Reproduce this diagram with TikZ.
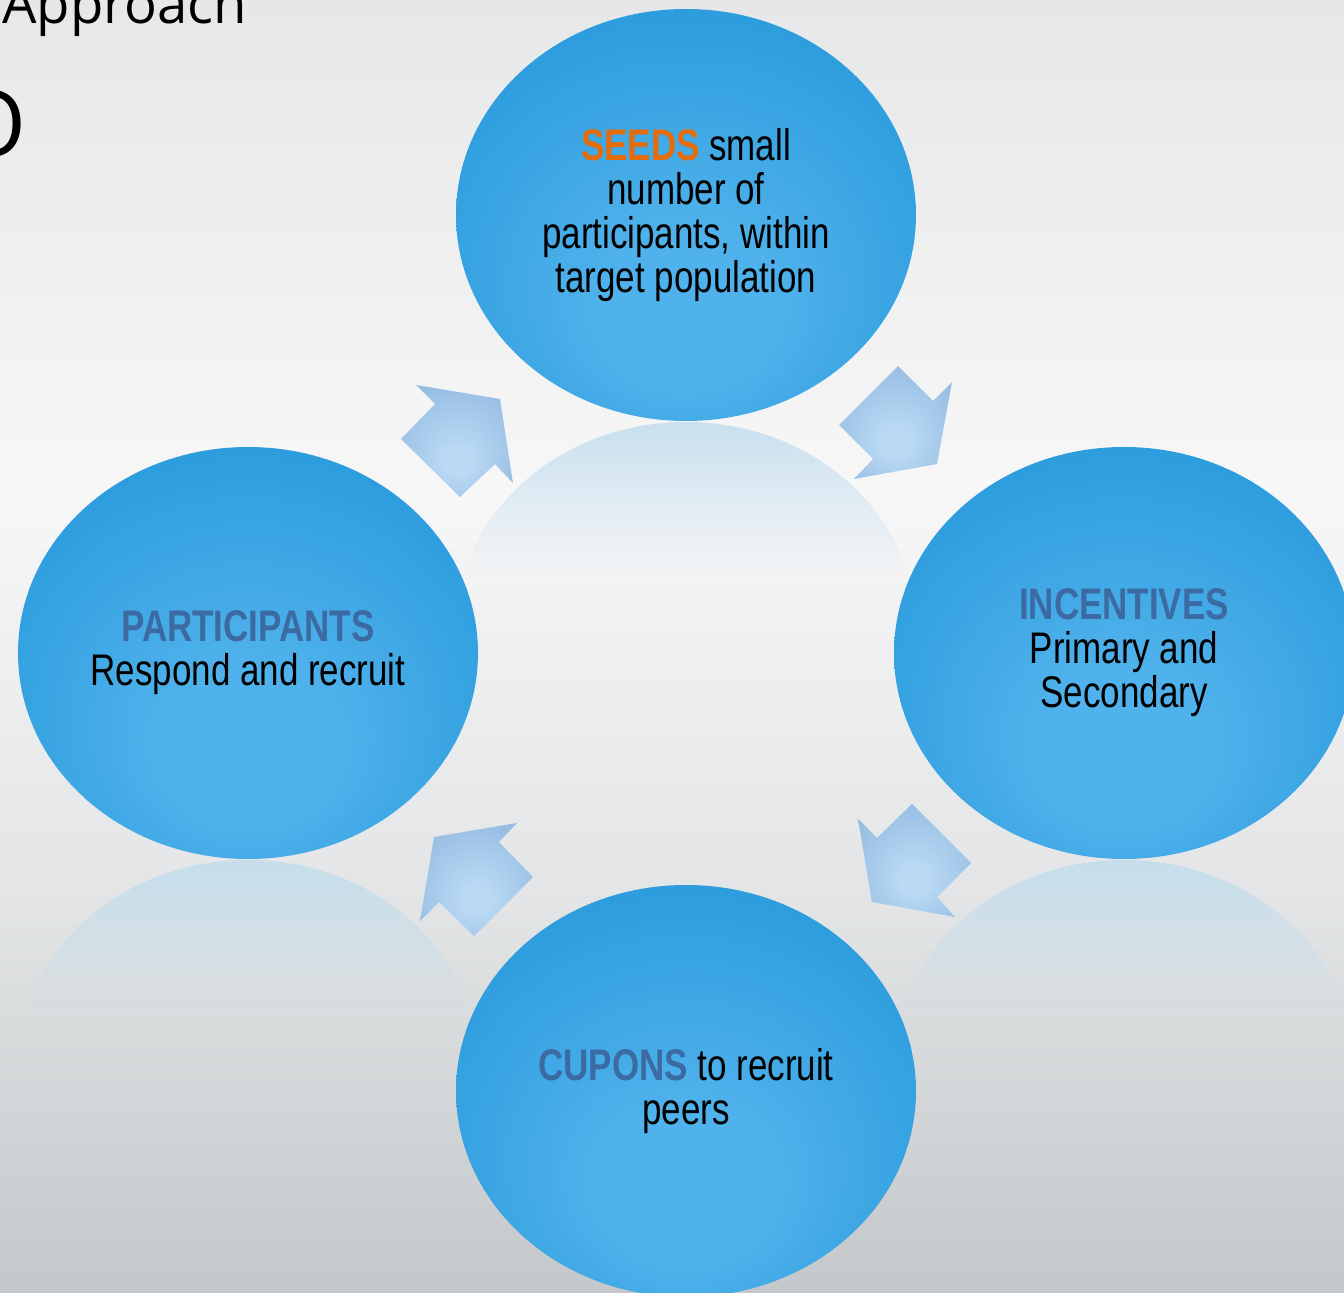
\documentclass[tikz,border=0pt]{standalone}
\usepackage{fontspec}
\setmainfont{Liberation Sans}[FakeStretch=0.79]
\newfontfamily\titlefont{Open Sans}
\usetikzlibrary{shapes.geometric,fadings,positioning}

\definecolor{ovaldark}{RGB}{42,155,220}
\definecolor{ovallight}{RGB}{80,178,236}
\definecolor{arrowdark}{RGB}{146,185,225}
\definecolor{arrowlight}{RGB}{186,218,244}
\definecolor{bgtop}{RGB}{230,231,232}
\definecolor{bgmid}{RGB}{247,247,248}
\definecolor{bglow}{RGB}{226,228,229}
\definecolor{bgbot}{RGB}{196,200,202}
\definecolor{reflblue}{RGB}{192,220,237}
\definecolor{seedorange}{RGB}{228,108,10}
\definecolor{headblue}{RGB}{60,106,162}

\pgfdeclareradialshading{ovalshade}{\pgfpoint{0bp}{-14bp}}{color(0bp)=(ovallight); color(9bp)=(ovallight); color(32bp)=(ovaldark); color(50bp)=(ovaldark)}
\pgfdeclareradialshading{arrowshade}{\pgfpoint{0bp}{-10bp}}{color(0bp)=(arrowlight); color(6bp)=(arrowlight); color(34bp)=(arrowdark); color(50bp)=(arrowdark)}
\pgfdeclareverticalshading{bgshade}{100bp}{color(0bp)=(bgbot); color(25bp)=(bgbot); color(40bp)=(bglow); color(56bp)=(bgmid); color(75bp)=(bgtop); color(100bp)=(bgtop)}
\tikzfading[name=fadedown, top color=transparent!15, bottom color=transparent!100]

\begin{document}
\begin{tikzpicture}[
    oval/.style={ellipse, minimum width=4.6cm, minimum height=4.12cm, inner sep=0pt,
        shade, shading=ovalshade, align=center, font=\fontsize{12.6}{12.5}\selectfont},
    blockarrow/.style={shade, shading=arrowshade},
    reflection/.style={fill=reflblue, path fading=fadedown}
]

    \useasboundingbox (0,0) rectangle (13.44,12.92);
    \clip (0,0) rectangle (13.44,12.92);

    %background
    \shade[shading=bgshade] (0,0) rectangle (13.44,12.92);

    %reflections
    \begin{scope}
        \clip (6.86,6.64) ellipse [x radius=2.3, y radius=2.06];
        \fill[reflection] (4.4,8.72) rectangle (9.3,7.2);
    \end{scope}
    \begin{scope}
        \clip (2.48,2.26) ellipse [x radius=2.3, y radius=2.06];
        \fill[reflection] (0,4.34) rectangle (5.0,2.82);
    \end{scope}
    \begin{scope}
        \clip (11.24,2.26) ellipse [x radius=2.3, y radius=2.06];
        \fill[reflection] (8.8,4.34) rectangle (13.6,2.82);
    \end{scope}

    %arrows
    \shade[blockarrow] (4.16,9.07) -- (5.00,8.93) -- (5.13,8.09) -- (4.95,8.28)
        -- (4.60,7.95) -- (4.01,8.53) -- (4.35,8.88) -- cycle;
    \shade[blockarrow] (8.98,9.26) -- (9.33,8.91) -- (9.52,9.10) -- (9.37,8.28)
        -- (8.54,8.13) -- (8.73,8.33) -- (8.39,8.67) -- cycle;
    \shade[blockarrow] (9.12,4.88) -- (9.71,4.29) -- (9.37,3.95) -- (9.55,3.75)
        -- (8.72,3.90) -- (8.58,4.73) -- (8.77,4.54) -- cycle;
    \shade[blockarrow] (5.17,4.69) -- (4.99,4.50) -- (5.33,4.15) -- (4.74,3.56)
        -- (4.39,3.90) -- (4.20,3.71) -- (4.34,4.55) -- cycle;

    %nodes
    \node[oval] (seeds) at (6.86,10.77)
        {\textcolor{seedorange}{\bfseries SEEDS} small\\number of\\participants, within\\target population};
    \node[oval] (incentives) at (11.24,6.39)
        {\textcolor{headblue}{\bfseries INCENTIVES}\\Primary and\\Secondary};
    \node[oval] (cupons) at (6.86,2.01)
        {\textcolor{headblue}{\bfseries CUPONS} to recruit\\peers};
    \node[oval] (participants) at (2.48,6.39)
        {\textcolor{headblue}{\bfseries PARTICIPANTS}\\Respond and recruit};

    %title
    \node[anchor=base east, inner sep=0pt, font=\titlefont\fontsize{15.5}{18}\selectfont] (title) at (2.48,12.68) {Approach};
    \node[anchor=base east, inner sep=0pt, font=\titlefont\fontsize{26}{30}\selectfont] (titleend) at (0.27,11.35) {O};

\end{tikzpicture}
\end{document}
